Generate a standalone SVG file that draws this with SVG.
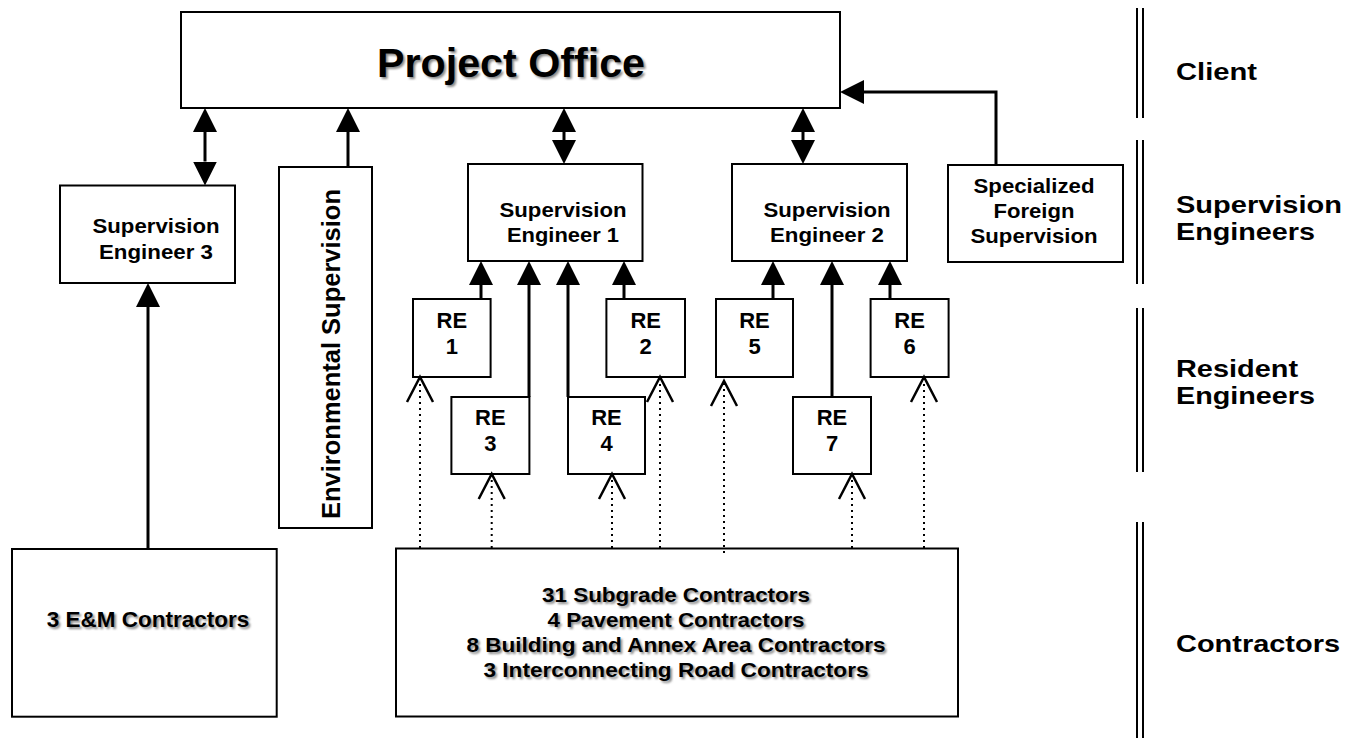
<svg xmlns="http://www.w3.org/2000/svg" width="1357" height="738" viewBox="0 0 1357 738">
<defs>
<marker id="ah" markerUnits="userSpaceOnUse" markerWidth="24" markerHeight="24" refX="0" refY="12" orient="auto-start-reverse" viewBox="0 0 24 24"><path d="M0,0 L24,12 L0,24 z" fill="#000"/></marker>
<filter id="sh" x="-5%" y="-30%" width="110%" height="160%"><feGaussianBlur stdDeviation="0.8"/></filter>
</defs>
<style>
.box{fill:#fff;stroke:#000;stroke-width:2}
.ln{stroke:#000;stroke-width:3;fill:none}
.dot{stroke:#000;stroke-width:2;stroke-dasharray:2 4;fill:none}
.chev{stroke:#000;stroke-width:2.5;fill:none}
.dl{stroke:#000;stroke-width:2}
text{font-family:"Liberation Sans",Arial,sans-serif;font-weight:bold;fill:#000}
.c{text-anchor:middle}
.shd{fill:#8a8a8a;filter:url(#sh)}
.se{font-size:21px}
.re{font-size:22px}
.ct{font-size:20px}
.lab{font-size:24px}
</style>
<rect width="1357" height="738" fill="#fff"/>

<g id="project-office">
<rect class="box" x="181" y="12" width="659" height="96"/>
<text class="c shd" x="513" y="79" font-size="40" textLength="268" lengthAdjust="spacingAndGlyphs">Project Office</text>
<text class="c" x="511" y="77" font-size="40" textLength="268" lengthAdjust="spacingAndGlyphs">Project Office</text>
</g>

<g id="se3">
<rect class="box" x="60" y="185.5" width="175" height="97.5"/>
<text class="c se" x="156" y="233" textLength="127" lengthAdjust="spacingAndGlyphs">Supervision</text>
<text class="c se" x="156" y="259" textLength="114" lengthAdjust="spacingAndGlyphs">Engineer 3</text>
</g>

<g id="env">
<rect class="box" x="279" y="167" width="93" height="361"/>
<text class="c" x="340" y="354" font-size="25" transform="rotate(-90 340 354)" textLength="330" lengthAdjust="spacingAndGlyphs">Environmental Supervision</text>
</g>

<g id="se1">
<rect class="box" x="468" y="164" width="174.5" height="97"/>
<text class="c se" x="563" y="217" textLength="127" lengthAdjust="spacingAndGlyphs">Supervision</text>
<text class="c se" x="563" y="242" textLength="112" lengthAdjust="spacingAndGlyphs">Engineer 1</text>
</g>

<g id="se2">
<rect class="box" x="732" y="164" width="175" height="97"/>
<text class="c se" x="827" y="217" textLength="127" lengthAdjust="spacingAndGlyphs">Supervision</text>
<text class="c se" x="827" y="242" textLength="114" lengthAdjust="spacingAndGlyphs">Engineer 2</text>
</g>

<g id="sfs">
<rect class="box" x="948" y="165" width="175" height="97"/>
<text class="c se" x="1034" y="193" textLength="121" lengthAdjust="spacingAndGlyphs">Specialized</text>
<text class="c se" x="1034" y="218" textLength="81" lengthAdjust="spacingAndGlyphs">Foreign</text>
<text class="c se" x="1034" y="243" textLength="127" lengthAdjust="spacingAndGlyphs">Supervision</text>
</g>

<g id="re1"><rect class="box" x="413" y="299" width="77.6" height="78"/>
<text class="c re" x="451.8" y="328">RE</text><text class="c re" x="451.8" y="354">1</text></g>
<g id="re2"><rect class="box" x="606.4" y="299" width="78.6" height="78"/>
<text class="c re" x="645.7" y="328">RE</text><text class="c re" x="645.7" y="354">2</text></g>
<g id="re5"><rect class="box" x="716" y="299" width="77" height="78"/>
<text class="c re" x="754.5" y="328">RE</text><text class="c re" x="754.5" y="354">5</text></g>
<g id="re6"><rect class="box" x="870.6" y="299" width="78" height="78"/>
<text class="c re" x="909.6" y="328">RE</text><text class="c re" x="909.6" y="354">6</text></g>
<g id="re3"><rect class="box" x="451.4" y="397" width="78" height="77"/>
<text class="c re" x="490.4" y="425">RE</text><text class="c re" x="490.4" y="451">3</text></g>
<g id="re4"><rect class="box" x="568" y="397" width="77" height="77"/>
<text class="c re" x="606.5" y="425">RE</text><text class="c re" x="606.5" y="451">4</text></g>
<g id="re7"><rect class="box" x="793" y="397" width="78" height="77"/>
<text class="c re" x="832" y="425">RE</text><text class="c re" x="832" y="451">7</text></g>

<g id="em-contractors">
<rect class="box" x="12" y="549" width="264.7" height="167.7"/>
<text class="c shd" x="150" y="629" font-size="22.5">3 E&amp;M Contractors</text>
<text class="c" x="148" y="627" font-size="22.5">3 E&amp;M Contractors</text>
</g>

<g id="contractors">
<rect class="box" x="396" y="548.5" width="562" height="168"/>
<text class="c ct shd" x="678" y="604" textLength="268" lengthAdjust="spacingAndGlyphs">31 Subgrade Contractors</text>
<text class="c ct shd" x="678" y="629" textLength="257" lengthAdjust="spacingAndGlyphs">4 Pavement Contractors</text>
<text class="c ct shd" x="678" y="654" textLength="419" lengthAdjust="spacingAndGlyphs">8 Building and Annex Area Contractors</text>
<text class="c ct shd" x="678" y="679" textLength="385" lengthAdjust="spacingAndGlyphs">3 Interconnecting Road Contractors</text>
<text class="c ct" x="676" y="602" textLength="268" lengthAdjust="spacingAndGlyphs">31 Subgrade Contractors</text>
<text class="c ct" x="676" y="627" textLength="257" lengthAdjust="spacingAndGlyphs">4 Pavement Contractors</text>
<text class="c ct" x="676" y="652" textLength="419" lengthAdjust="spacingAndGlyphs">8 Building and Annex Area Contractors</text>
<text class="c ct" x="676" y="677" textLength="385" lengthAdjust="spacingAndGlyphs">3 Interconnecting Road Contractors</text>
</g>

<g id="level-labels">
<line class="dl" x1="1137" y1="8" x2="1137" y2="118"/><line class="dl" x1="1143" y1="8" x2="1143" y2="118"/>
<line class="dl" x1="1137" y1="140" x2="1137" y2="284"/><line class="dl" x1="1143" y1="140" x2="1143" y2="284"/>
<line class="dl" x1="1137" y1="308" x2="1137" y2="472"/><line class="dl" x1="1143" y1="308" x2="1143" y2="472"/>
<line class="dl" x1="1137" y1="522" x2="1137" y2="738"/><line class="dl" x1="1143" y1="522" x2="1143" y2="738"/>
<text class="lab" x="1176" y="80" textLength="81" lengthAdjust="spacingAndGlyphs">Client</text>
<text class="lab" x="1176" y="213" textLength="166" lengthAdjust="spacingAndGlyphs">Supervision</text>
<text class="lab" x="1176" y="240" textLength="139" lengthAdjust="spacingAndGlyphs">Engineers</text>
<text class="lab" x="1176" y="377" textLength="122" lengthAdjust="spacingAndGlyphs">Resident</text>
<text class="lab" x="1176" y="404" textLength="139" lengthAdjust="spacingAndGlyphs">Engineers</text>
<text class="lab" x="1176" y="652" textLength="164" lengthAdjust="spacingAndGlyphs">Contractors</text>
</g>

<g id="connectors">
<line class="ln" x1="205" y1="132" x2="205" y2="161.5" marker-start="url(#ah)" marker-end="url(#ah)"/>
<line class="ln" x1="564" y1="132" x2="564" y2="140" marker-start="url(#ah)" marker-end="url(#ah)"/>
<line class="ln" x1="803" y1="132" x2="803" y2="140" marker-start="url(#ah)" marker-end="url(#ah)"/>
<line class="ln" x1="348" y1="167" x2="348" y2="132" marker-end="url(#ah)"/>
<path class="ln" d="M996,165 V92 H864" marker-end="url(#ah)"/>
<line class="ln" x1="148" y1="549" x2="148" y2="307" marker-end="url(#ah)"/>
<line class="ln" x1="481" y1="299" x2="481" y2="285" marker-end="url(#ah)"/>
<line class="ln" x1="529" y1="397" x2="529" y2="285" marker-end="url(#ah)"/>
<line class="ln" x1="568" y1="397" x2="568" y2="285" marker-end="url(#ah)"/>
<line class="ln" x1="624" y1="299" x2="624" y2="285" marker-end="url(#ah)"/>
<line class="ln" x1="773" y1="299" x2="773" y2="285" marker-end="url(#ah)"/>
<line class="ln" x1="832" y1="397" x2="832" y2="285" marker-end="url(#ah)"/>
<line class="ln" x1="890" y1="299" x2="890" y2="285" marker-end="url(#ah)"/>
<line class="dot" x1="420" y1="548" x2="420" y2="379"/>
<polyline class="chev" points="407,402 420,377 433,402"/>
<line class="dot" x1="491.7" y1="548" x2="491.7" y2="476"/>
<polyline class="chev" points="478.7,499 491.7,474 504.7,499"/>
<line class="dot" x1="612" y1="548" x2="612" y2="476"/>
<polyline class="chev" points="599,499 612,474 625,499"/>
<line class="dot" x1="660" y1="548" x2="660" y2="379"/>
<polyline class="chev" points="647,402 660,377 673,402"/>
<line class="dot" x1="724" y1="553" x2="724" y2="383"/>
<polyline class="chev" points="711,406 724,381 737,406"/>
<line class="dot" x1="852" y1="548" x2="852" y2="476"/>
<polyline class="chev" points="839,499 852,474 865,499"/>
<line class="dot" x1="924" y1="548" x2="924" y2="379"/>
<polyline class="chev" points="911,402 924,377 937,402"/>
</g>
</svg>
